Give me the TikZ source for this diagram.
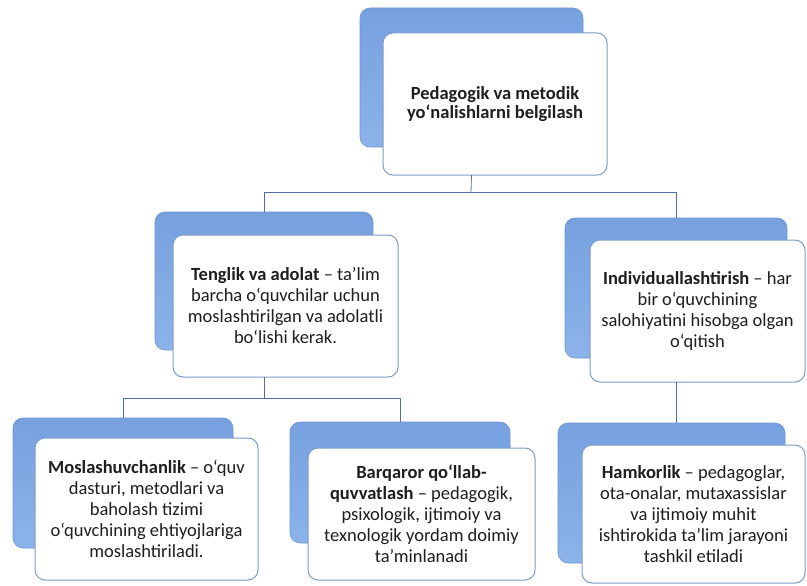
\documentclass[tikz,border=0pt]{standalone}
\usepackage{fontspec}
\setmainfont{Carlito}
\definecolor{backtop}{RGB}{118,160,223}
\definecolor{backbot}{RGB}{140,179,233}
\definecolor{backline}{RGB}{110,150,210}
\definecolor{frontline}{RGB}{125,155,200}
\definecolor{connline}{RGB}{80,110,165}
\definecolor{txt}{RGB}{30,30,30}
\begin{document}
\begin{tikzpicture}[x=1pt,y=-1pt,
  backbox/.style={draw=backline, line width=0.6pt, rounded corners=10pt,
    top color=backtop, bottom color=backbot, anchor=north west,
    outer sep=0pt, inner sep=0pt},
  frontbox/.style={draw=frontline, line width=1pt, rounded corners=10pt,
    fill=white, anchor=north west, outer sep=0pt, inner sep=2pt,
    align=center, text=txt, font=\fontsize{18.5}{21}\selectfont},
  conn/.style={draw=connline, line width=0.8pt}
]
\useasboundingbox[fill=white] (0,0) rectangle (807,586);

% back boxes
\node[backbox, minimum width=223pt, minimum height=139pt] (b1) at (360,8) {};
\node[backbox, minimum width=218pt, minimum height=138pt] (b2) at (155,212) {};
\node[backbox, minimum width=222pt, minimum height=140pt] (b3) at (565,218) {};
\node[backbox, minimum width=220pt, minimum height=130pt] (b4) at (13,418) {};
\node[backbox, minimum width=220pt, minimum height=121pt] (b5) at (290,422) {};
\node[backbox, minimum width=227pt, minimum height=140pt] (b6) at (558,423) {};

% front boxes
\node[frontbox, minimum width=224pt, minimum height=142pt,
  font=\fontsize{18.5}{18.5}\selectfont] (f1) at (383,33)
  {\textbf{Pedagogik va metodik}\\\textbf{yo‘nalishlarni belgilash}};
\node[frontbox, minimum width=225pt, minimum height=142pt] (f2) at (173,235)
  {\textbf{Tenglik va adolat} – ta’lim\\barcha o‘quvchilar uchun\\moslashtirilgan va adolatli\\bo‘lishi kerak.};
\node[frontbox, minimum width=215pt, minimum height=142pt] (f3) at (590,240)
  {\textbf{Individuallashtirish} – har\\bir o‘quvchining\\salohiyatini hisobga olgan\\o‘qitish};
\node[frontbox, minimum width=223pt, minimum height=142pt] (f4) at (35,438)
  {\textbf{Moslashuvchanlik} – o‘quv\\dasturi, metodlari va\\baholash tizimi\\o‘quvchining ehtiyojlariga\\moslashtiriladi.};
\node[frontbox, minimum width=227pt, minimum height=132pt] (f5) at (308,448)
  {\textbf{Barqaror qo‘llab-}\\\textbf{quvvatlash} – pedagogik,\\psixologik, ijtimoiy va\\texnologik yordam doimiy\\ta’minlanadi};
\node[frontbox, minimum width=223pt, minimum height=138pt] (f6) at (582,445)
  {\textbf{Hamkorlik} – pedagoglar,\\ota-onalar, mutaxassislar\\va ijtimoiy muhit\\ishtirokida ta’lim jarayoni\\tashkil etiladi};

% junction coordinates
\coordinate (j1) at (471,192);
\coordinate (j2) at (262,398);

% connectors
\draw[conn] (b1.south |- f1.south) -- (j1);
\draw[conn] (j1) -| (b2.north);
\draw[conn] (j1) -| (b3.north);
\draw[conn] (b2.south |- f2.south) -- (b2.south |- j2);
\draw[conn] (b2.south |- j2) -| (b4.north);
\draw[conn] (b2.south |- j2) -| (b5.north);
\draw[conn] (b3.south |- f3.south) -- (b3.south |- b6.north);
\end{tikzpicture}
\end{document}
